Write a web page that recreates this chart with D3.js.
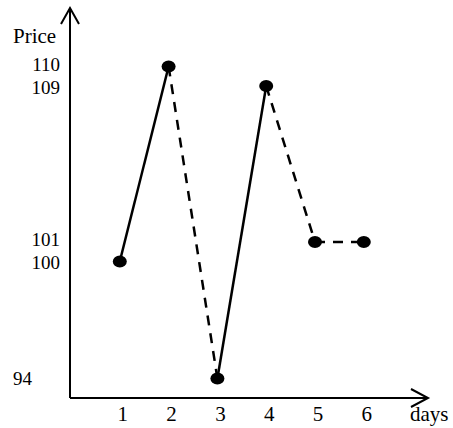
<!DOCTYPE html>
<html>
<head>
<meta charset="utf-8">
<script src="https://cdn.jsdelivr.net/npm/d3@7"></script>
<style>
    body { margin: 0; background: #fff; }
    text { font-family: "Liberation Serif", "DejaVu Serif", serif; fill: #000; }
</style>
</head>
<body>
<div class="data_figure"></div>
<script>
const days = [1, 2, 3, 4, 5, 6];
const prices = [100, 110, 94, 109, 101, 101];
// style of segment from day i to day i+1
const segStyle = ["solid", "dashed", "solid", "dashed", "dashed"];
const yTicks = [110, 109, 101, 100, 94];

const widthMax = 453, heightMax = 428;
const origin = { x: 70, y: 398 };

const xScale = d3.scaleLinear()
        .domain([0, 1])
        .range([origin.x + 1, origin.x + 49.8]);
const yScale = d3.scaleLinear()
        .domain([93, 113])
        .range([origin.y, origin.y - 390]);

// small nudges so the close pairs of tick labels don't collide
const yNudge = { 110: -2, 109: 2, 101: -2, 100: 1, 94: 0 };

let svg = d3.select(".data_figure")
            .append("svg")
            .attr("width", widthMax)
            .attr("height", heightMax);

// axes with open arrow heads
const axisG = svg.append("g")
        .attr("stroke", "#000")
        .attr("stroke-width", 2)
        .attr("fill", "none");
axisG.append("path")
    .attr("d", `M${origin.x},${origin.y} V${yScale(113)}`);
axisG.append("path")
    .attr("d", `M${origin.x - 9},${yScale(113) + 16} L${origin.x},${yScale(113)} L${origin.x + 9},${yScale(113) + 16}`);
axisG.append("path")
    .attr("d", `M${origin.x},${origin.y} H428`);
axisG.append("path")
    .attr("d", `M411,${origin.y - 9} L428,${origin.y} L411,${origin.y + 9}`);

// labels
svg.append("text")
    .text("Price")
    .attr("x", 13)
    .attr("y", 43)
    .style("font-size", "21px");

svg.append("text")
    .text("days")
    .attr("x", 410)
    .attr("y", 421)
    .style("font-size", "21px");

svg.selectAll(".ylab")
    .data(yTicks)
    .enter()
    .append("text")
    .attr("class", "ylab")
    .text(d => d)
    .attr("x", d => d === 94 ? 13 : 60)
    .attr("y", d => yScale(d) + 6 + yNudge[d])
    .attr("text-anchor", d => d === 94 ? "start" : "end")
    .style("font-size", "19px");

svg.selectAll(".xlab")
    .data(days)
    .enter()
    .append("text")
    .attr("class", "xlab")
    .text(d => d)
    .attr("x", d => xScale(d) + 3)
    .attr("y", 421)
    .attr("text-anchor", "middle")
    .style("font-size", "21px");

// line segments
const segs = segStyle.map((s, i) => ({ a: i, b: i + 1, style: s }));
svg.selectAll(".seg")
    .data(segs)
    .enter()
    .append("line")
    .attr("class", "seg")
    .attr("x1", d => xScale(days[d.a]))
    .attr("y1", d => yScale(prices[d.a]))
    .attr("x2", d => xScale(days[d.b]))
    .attr("y2", d => yScale(prices[d.b]))
    .attr("stroke", "#000")
    .attr("stroke-width", 2.5)
    .attr("stroke-dasharray", d => d.style === "dashed" ? "10,8" : null);

// points
svg.selectAll(".pt")
    .data(days)
    .enter()
    .append("ellipse")
    .attr("class", "pt")
    .attr("cx", (d, i) => xScale(d))
    .attr("cy", (d, i) => yScale(prices[i]))
    .attr("rx", 7)
    .attr("ry", 6)
    .attr("fill", "#000");
</script>
</body>
</html>
